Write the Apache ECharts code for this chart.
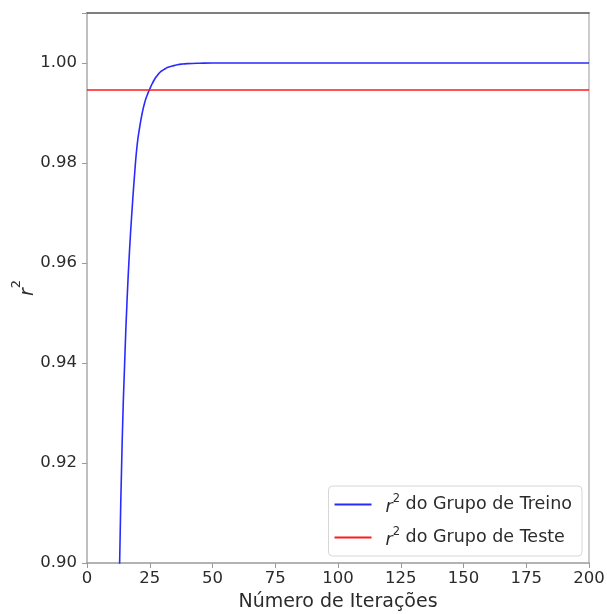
<!DOCTYPE html>
<html>
<head>
<meta charset="utf-8">
<script src="https://cdn.jsdelivr.net/npm/echarts@6/dist/echarts.min.js"></script>
<style>html,body{margin:0;padding:0;background:#fff;}#c{width:607px;height:614px;}</style>
</head>
<body>
<div id="c"></div>
<script>
// Training r² per iteration (earlier iterations fall below 0.90 and are clipped)
const trainIter = [12, 13, 14, 15, 16, 17, 18, 19, 20, 21, 22, 23, 24, 25, 26, 27, 28, 29, 30, 31, 32, 34, 36, 38, 40, 45, 50, 200];
const trainR2   = [0.872, 0.900, 0.924, 0.940, 0.953, 0.963, 0.971, 0.978, 0.9837, 0.9872, 0.9900, 0.9921, 0.9936, 0.9948, 0.9959, 0.9968, 0.9975, 0.9981, 0.9985, 0.9988, 0.9991, 0.9994, 0.99965, 0.9998, 0.99988, 0.99996, 1.0000, 1.0000];
// Test r² (constant)
const testIter = [0, 200];
const testR2 = [0.9946, 0.9946];
const xTicks = [0, 25, 50, 75, 100, 125, 150, 175, 200];
const yTicks = [0.90, 0.92, 0.94, 0.96, 0.98, 1.00];

const font = 'DejaVu Sans';
const txt = '#2b2b2b';
const chart = echarts.init(document.getElementById('c'));
chart.setOption({
  animation: false,
  grid: { left: 87, right: 18, top: 13, bottom: 51, show: false, containLabel: false, outerBoundsMode: 'none' },
  xAxis: [{
    type: 'value', min: 0, max: 200, interval: 25,
    name: 'Número de Iterações', nameLocation: 'middle', nameGap: 30,
    nameTextStyle: { fontFamily: font, fontSize: 19, color: txt },
    axisLine: { show: true, onZero: false, lineStyle: { color: '#9a9a9a', width: 1.5 } },
    axisTick: { show: true, length: 5, lineStyle: { color: '#9a9a9a' } },
    axisLabel: { fontFamily: font, fontSize: 16.5, color: txt, margin: 7,
      formatter: v => xTicks.includes(v) ? String(v) : '' },
    splitLine: { show: false }
  }, {
    type: 'value', min: 0, max: 200, position: 'top',
    axisLine: { show: true, onZero: false, lineStyle: { color: '#555', width: 1.5 } },
    axisTick: { show: false }, axisLabel: { show: false }, splitLine: { show: false }
  }],
  yAxis: [{
    type: 'value', min: 0.90, max: 1.01, interval: 0.02,
    name: '{i|r}{s|2}', nameLocation: 'middle', nameGap: 49, nameRotate: 90, nameMoveOverlap: false,
    nameTextStyle: { fontFamily: font, fontSize: 19, color: txt,
      rich: { i: { fontFamily: font, fontSize: 19, fontStyle: 'italic', color: txt, verticalAlign: 'bottom' },
              s: { fontFamily: font, fontSize: 13, color: txt, verticalAlign: 'top', lineHeight: 28 } } },
    axisLine: { show: true, onZero: false, lineStyle: { color: '#aaa', width: 1.5 } },
    axisTick: { show: true, length: 5, lineStyle: { color: '#9a9a9a' } },
    axisLabel: { fontFamily: font, fontSize: 16.5, color: txt, margin: 10,
      formatter: v => { const f = yTicks.find(t => Math.abs(t - v) < 1e-9); return f !== undefined ? f.toFixed(2) : ''; } },
    splitLine: { show: false }
  }, {
    type: 'value', min: 0.90, max: 1.01, position: 'right',
    axisLine: { show: true, onZero: false, lineStyle: { color: '#bbb', width: 1.5 } },
    axisTick: { show: false }, axisLabel: { show: false }, splitLine: { show: false }
  }],
  legend: {
    right: 25, bottom: 58, orient: 'vertical',
    icon: 'rect', itemWidth: 37, itemHeight: 2, itemGap: 10,
    padding: [7, 10, 7, 6],
    borderColor: '#d6d6d6', borderWidth: 1, borderRadius: 4,
    backgroundColor: 'rgba(255,255,255,0.8)',
    data: ['treino', 'teste'],
    formatter: n => n === 'treino' ? '{i|r}{s|2} do Grupo de Treino' : '{i|r}{s|2} do Grupo de Teste',
    textStyle: { fontFamily: font, fontSize: 17.5, color: txt, padding: [0, 0, 0, 9],
      rich: { i: { fontFamily: font, fontSize: 17.5, fontStyle: 'italic', color: txt, verticalAlign: 'bottom' },
              s: { fontFamily: font, fontSize: 11.5, color: txt, verticalAlign: 'top', lineHeight: 23 } } }
  },
  series: [
    { name: 'treino', type: 'line', showSymbol: false, symbol: 'none', smooth: true, clip: true,
      data: trainIter.map((x, i) => [x, trainR2[i]]),
      lineStyle: { color: '#2a2aff', width: 1.6 }, itemStyle: { color: '#2a2aff' } },
    { name: 'teste', type: 'line', showSymbol: false, symbol: 'none', clip: true,
      data: testIter.map((x, i) => [x, testR2[i]]),
      lineStyle: { color: '#ff1a1a', width: 1.6 }, itemStyle: { color: '#ff1a1a' } }
  ]
});
</script>
</body>
</html>
